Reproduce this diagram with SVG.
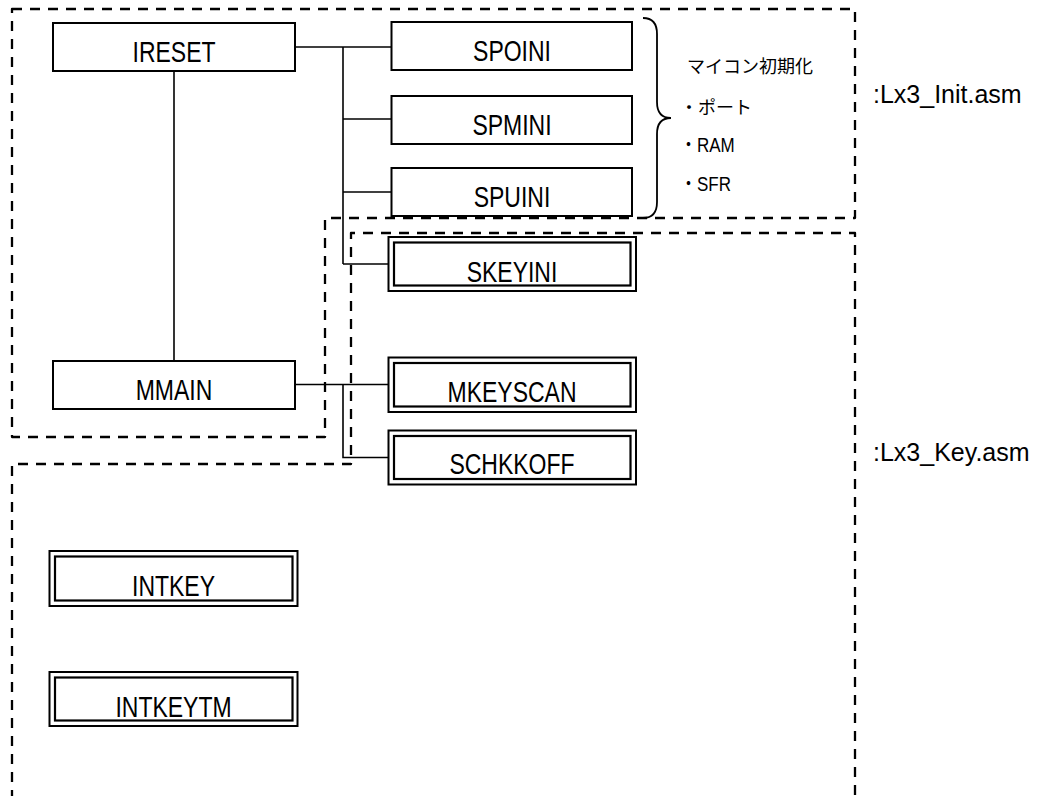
<svg xmlns="http://www.w3.org/2000/svg" width="1039" height="796" viewBox="0 0 1039 796">
<style>
  .bg { fill: #ffffff; }
  .region { fill: none; stroke: #000; stroke-width: 2.3; stroke-dasharray: 10 8; stroke-linejoin: round; }
  .box { fill: #fff; stroke: #000; stroke-width: 2; }
  .dbl { fill: none; stroke: #000; stroke-width: 2.2; }
  .conn { fill: none; stroke: #000; stroke-width: 1.6; }
  .lbl { font-family: "Liberation Sans", Arial, sans-serif; font-size: 23px; fill: #000; text-anchor: middle; }
  .file { font-family: "Liberation Sans", Arial, sans-serif; font-size: 25px; fill: #000; }
  .jp { font-family: "Liberation Sans", "Noto Sans CJK JP", sans-serif; font-size: 17px; fill: #000; }
  .jpt { font-family: "Noto Sans CJK JP", sans-serif; font-size: 18px; fill: #000; }
  .brace { fill: none; stroke: #000; stroke-width: 1.8; }
</style>
<rect class="bg" x="0" y="0" width="1039" height="796"/>

<g id="regions">
  <path id="region-init" class="region" d="M12,9 H855 V218 H325 V437 H12 Z"/>
  <path id="region-key" class="region" d="M12,800 V464 H351 V233 H855 V800"/>
</g>

<g id="connectors">
  <path class="conn" d="M295,47 H391.5"/>
  <path class="conn" d="M343,47 V264"/>
  <path class="conn" d="M343,119 H391.5"/>
  <path class="conn" d="M343,192 H391.5"/>
  <path class="conn" d="M343,264 H388.5"/>
  <path class="conn" d="M174,71 V361"/>
  <path class="conn" d="M295,384.5 H388.5"/>
  <path class="conn" d="M343,384.5 V457.5 H388.5"/>
</g>

<g id="IRESET">
  <rect class="box" x="53" y="23" width="242" height="48"/>
  <text class="lbl" transform="translate(174,61.5) scale(1,1.27)">IRESET</text>
</g>
<g id="SPOINI">
  <rect class="box" x="391.5" y="22" width="240.5" height="48"/>
  <text class="lbl" transform="translate(512,60.5) scale(1,1.27)">SPOINI</text>
</g>
<g id="SPMINI">
  <rect class="box" x="391.5" y="96" width="240.5" height="48"/>
  <text class="lbl" transform="translate(512,134.5) scale(1,1.27)">SPMINI</text>
</g>
<g id="SPUINI">
  <rect class="box" x="391.5" y="168" width="240.5" height="48"/>
  <text class="lbl" transform="translate(512,206.5) scale(1,1.27)">SPUINI</text>
</g>
<g id="MMAIN">
  <rect class="box" x="53" y="361" width="242" height="48"/>
  <text class="lbl" transform="translate(174,399.5) scale(1,1.27)">MMAIN</text>
</g>

<g id="SKEYINI">
  <rect class="box" x="388.5" y="237" width="247.5" height="54"/>
  <rect class="dbl" x="394" y="242.5" width="236.5" height="43"/>
  <text class="lbl" transform="translate(512,281.5) scale(1,1.27)">SKEYINI</text>
</g>
<g id="MKEYSCAN">
  <rect class="box" x="388.5" y="357.5" width="247.5" height="54.5"/>
  <rect class="dbl" x="394" y="363" width="236.5" height="43.5"/>
  <text class="lbl" transform="translate(512,402) scale(1,1.27)">MKEYSCAN</text>
</g>
<g id="SCHKKOFF">
  <rect class="box" x="388.5" y="430.5" width="247.5" height="54"/>
  <rect class="dbl" x="394" y="436" width="236.5" height="43"/>
  <text class="lbl" transform="translate(512,474) scale(1,1.27)">SCHKKOFF</text>
</g>
<g id="INTKEY">
  <rect class="box" x="49.5" y="551" width="248" height="55"/>
  <rect class="dbl" x="55" y="556.5" width="237.5" height="44"/>
  <text class="lbl" transform="translate(173.5,596) scale(1,1.27)">INTKEY</text>
</g>
<g id="INTKEYTM">
  <rect class="box" x="49.5" y="672" width="248" height="54"/>
  <rect class="dbl" x="55" y="677.5" width="237.5" height="43"/>
  <text class="lbl" transform="translate(173.5,716.5) scale(1,1.27)">INTKEYTM</text>
</g>

<g id="init-note">
  <path class="brace" d="M643,18 Q657,18 657,34 V102 Q657,118 671,118 Q657,118 657,134 V202 Q657,218 643,218"/>
  <text class="jpt" x="687" y="73">マイコン初期化</text>
  <text class="jpt" x="680" y="114">・ポート</text>
  <text class="jp" transform="translate(680,152) scale(1,1.15)">・RAM</text>
  <text class="jp" transform="translate(680,191) scale(1,1.15)">・SFR</text>
</g>

<g id="file-labels">
  <text class="file" x="873" y="103">:Lx3_Init.asm</text>
  <text class="file" x="873" y="461">:Lx3_Key.asm</text>
</g>
</svg>
